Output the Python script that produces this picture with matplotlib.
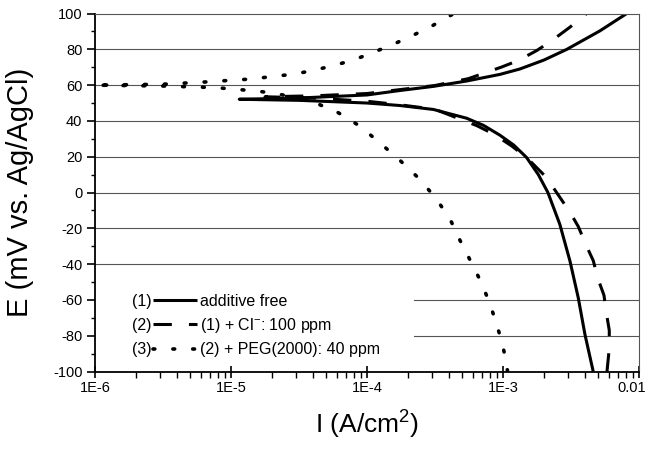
import matplotlib
matplotlib.use("Agg")
import matplotlib.pyplot as plt
from matplotlib.transforms import IdentityTransform, ScaledTranslation

plt.rcParams["font.family"] = ["Liberation Sans", "DejaVu Sans"]
plt.rcParams["mathtext.default"] = "regular"
plt.rcParams["axes.unicode_minus"] = False

# (1) additive free : cathodic branch (bottom -> Ecorr) then anodic branch
i1 = [4.61e-3, 4.01e-3, 3.58e-3, 3.11e-3, 2.62e-3, 2.14e-3, 1.82e-3, 1.49e-3,
      1.2e-3, 9.51e-4, 7.2e-4, 5.41e-4, 3.08e-4, 1.75e-4, 1.0e-4, 3.16e-5, 1.15e-5,
      3.16e-5, 1.0e-4, 1.75e-4, 3.08e-4, 5.41e-4, 9.51e-4, 1.33e-3, 2.0e-3,
      2.95e-3, 5.16e-3, 8.13e-3]
e1 = [-100, -79.4, -58.9, -38.3, -17.8, 0, 10, 19.6,
      26.5, 32.0, 37.5, 41.5, 46.4, 48.6, 50.0, 51.5, 52.1,
      52.8, 54.5, 57.0, 59.3, 62.3, 66.0, 69.0, 74.0,
      80.0, 90.3, 100]

# (2) + Cl- 100 ppm
i2 = [5.82e-3, 6.05e-3, 6.05e-3, 5.78e-3, 5.53e-3, 5.02e-3, 4.61e-3, 4.12e-3,
      3.58e-3, 3.11e-3, 2.48e-3, 2.09e-3, 1.49e-3, 1.16e-3, 8.51e-4, 6.41e-4,
      3.16e-4, 1.75e-4, 1.0e-4, 3.98e-5, 1.78e-5,
      3.98e-5, 1.0e-4, 1.75e-4, 3.16e-4, 5.56e-4, 9.77e-4, 1.30e-3, 1.77e-3,
      2.32e-3, 3.11e-3, 4.12e-3]
e2 = [-100, -87, -77, -68, -57.4, -48.6, -38, -30,
      -19, -11, 0, 8.4, 19.6, 26, 32.7, 37.4,
      46.5, 49, 51, 52.8, 53.5,
      54.0, 55.3, 57.5, 59.8, 63.6, 70.1, 73.8, 79.3,
      85.2, 92.4, 100]

# (3) + PEG(2000) 40 ppm
i3 = [1.08e-3, 1.06e-3, 9.84e-4, 8.89e-4, 7.94e-4, 6.85e-4, 5.78e-4, 4.83e-4,
      4.12e-4, 3.25e-4, 2.43e-4, 1.73e-4, 1.25e-4, 8.91e-5, 6.15e-5, 4.39e-5,
      3.16e-5, 2.24e-5, 1.56e-5, 1.10e-5, 7.76e-6, 3.16e-6, 1.0e-6,
      3.16e-6, 7.01e-6, 9.95e-6, 1.40e-5, 1.97e-5, 2.79e-5, 3.94e-5, 5.56e-5,
      7.80e-5, 1.09e-4, 1.58e-4, 2.19e-4, 3.08e-4, 4.35e-4]
e3 = [-100, -95, -83.7, -72.5, -61.3, -49.5, -38.3, -26.7,
      -15.5, -3.7, 7.6, 18.3, 27.6, 37, 44.6, 49.4,
      52.5, 55, 56.7, 57.6, 58.6, 59.5, 60,
      60.5, 61.9, 62.7, 63.4, 64.7, 66, 68, 70.8,
      73.8, 78, 83, 87.9, 93.5, 100]

numbers = ["(1)", "(2)", "(3)"]
labels = ["additive free", r"(1) + Cl$^{-}$: 100 ppm", "(2) + PEG(2000): 40 ppm"]
xticks = [1e-6, 1e-5, 1e-4, 1e-3, 1e-2]
xticklabels = ["1E-6", "1E-5", "1E-4", "1E-3", "0.01"]

fig = plt.figure(figsize=(6.51, 4.54), dpi=100)
ax = fig.add_axes([0.1459, 0.1817, 0.8356, 0.7885])

ax.plot(i1, e1, color="black", lw=2.2, solid_capstyle="butt", label=labels[0])
ax.plot(i2, e2, color="black", lw=2.2, dashes=(6.0, 5.6), label=labels[1])
ax.plot(i3, e3, color="black", lw=2.6, dashes=(0.5, 5.0),
        dash_capstyle="round", label=labels[2])

ax.set_xscale("log")
ax.set_xlim(1e-6, 1e-2)
ax.set_ylim(-100, 100)
ax.set_xticks(xticks)
ax.set_xticklabels(xticklabels)
ax.set_yticks(range(-100, 101, 20))
ax.set_yticks(range(-100, 101, 10), minor=True)

# horizontal grid, the two lowest lines are hidden behind the legend
for v in range(-80, 100, 20):
    x0 = 0.586 if v in (-60, -80) else 0
    ax.axhline(v, xmin=x0, color="#555555", lw=0.8, zorder=0)

ax.tick_params(axis="both", labelsize=10.5, color="black")
ax.tick_params(axis="x", which="major", direction="inout", length=9, width=1.2, pad=2)
ax.tick_params(axis="x", which="minor", direction="out", length=4, width=1.0)
ax.tick_params(axis="y", which="major", direction="out", length=6, width=1.2, pad=3)
ax.tick_params(axis="y", which="minor", direction="out", length=3, width=1.0)

# last tick label sits at the right edge, nudge it in a little
last = ax.get_xticklabels()[-1]
last.set_transform(last.get_transform() + ScaledTranslation(-7 / 100, 0, fig.dpi_scale_trans))

for s in ["left", "bottom"]:
    ax.spines[s].set_linewidth(1.3)
for s in ["top", "right"]:
    ax.spines[s].set_linewidth(0.8)
    ax.spines[s].set_color("#555555")

ax.set_xlabel(r"I (A/cm$^2$)", fontsize=19)
ax.set_ylabel("E (mV vs. Ag/AgCl)", fontsize=21)
ax.xaxis.set_label_coords(0.5, -0.105)
ax.yaxis.set_label_coords(-0.112, 0.5)

leg = ax.legend(loc="lower left", bbox_to_anchor=(0.107, 0.04), frameon=False,
                fontsize=11.5, handlelength=2.75, handletextpad=0.15,
                labelspacing=0.45, borderpad=0, borderaxespad=0)

fig.canvas.draw()
r = fig.canvas.get_renderer()
for num, h, t in zip(numbers, leg.legend_handles, leg.get_texts()):
    hb = h.get_window_extent(r)
    tb = t.get_window_extent(r)
    fig.text(hb.x0 - 2, (tb.y0 + tb.y1) / 2, num, transform=IdentityTransform(),
             ha="right", va="center", fontsize=11.5)

fig.savefig("out.png", dpi=100)
